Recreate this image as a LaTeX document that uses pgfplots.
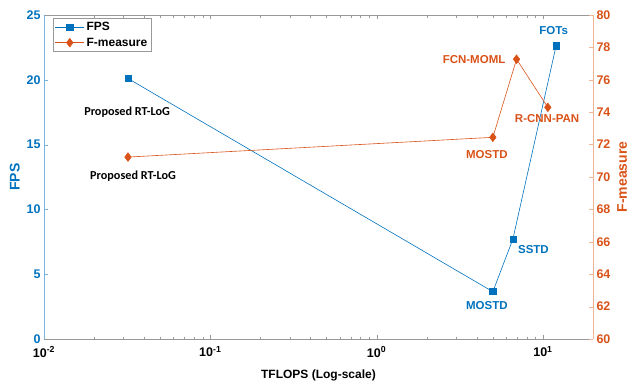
\documentclass[border=0pt]{standalone}
\usepackage{pgfplots}
\pgfplotsset{compat=1.18}
\usepackage{fontspec}
\setmainfont{Liberation Sans}
\newfontfamily\calib{Carlito}
\definecolor{mblue}{RGB}{0,114,189}
\definecolor{morange}{RGB}{217,83,25}
\definecolor{lblue}{RGB}{120,180,225}
\definecolor{lorange}{RGB}{240,180,150}
\begin{document}
\begin{tikzpicture}
\useasboundingbox (-44pt,-44pt) rectangle (587pt,339pt);
\begin{axis}[
  name=ax1,
  scale only axis, width=549pt, height=324pt,
  xmode=log, xmin=0.01, xmax=20,
  ymin=0, ymax=25, ytick={0,5,...,25},
  xtick={0.01,0.1,1,10},
  xticklabels={10\textsuperscript{-2},10\textsuperscript{-1},10\textsuperscript{0},10\textsuperscript{1}},
  axis x line*=box, axis y line*=left,
  tick align=inside,
  x axis line style={gray!80},
  y axis line style={lblue},
  xtick style={gray!80},
  ytick style={lblue},
  major tick length=4pt, minor tick length=2.5pt,
  /pgf/number format/assume math mode=true,
  tick label style={font=\bfseries\fontsize{12.5}{14}\selectfont},
  xticklabel style={yshift=-4pt},
  yticklabel style={mblue},
  xlabel={TFLOPS (Log-scale)}, ylabel={FPS},
  xlabel style={font=\bfseries\fontsize{12}{14}\selectfont, yshift=-6pt},
  ylabel style={font=\bfseries\fontsize{14}{16}\selectfont, mblue},
  clip=false,
]
\addplot[mblue, mark=square*, mark size=3.1pt, line width=0.6pt] coordinates {
  (0.032,20.1) (5.0,3.65) (6.6,7.72) (12.0,22.63)
};
\node[font=\calib\bfseries\fontsize{12.2}{14}\selectfont] at (axis cs:0.0316,17.5) {Proposed RT-LoG};
\node[font=\calib\bfseries\fontsize{12.2}{14}\selectfont] at (axis cs:0.0343,12.58) {Proposed RT-LoG};
\node[font=\bfseries\fontsize{11.5}{13}\selectfont, mblue] at (axis cs:4.6,2.62) {MOSTD};
\node[font=\bfseries\fontsize{11.5}{13}\selectfont, mblue, anchor=west, inner sep=0pt] at (axis cs:7.07,6.94) {SSTD};
\node[font=\bfseries\fontsize{11.5}{13}\selectfont, mblue] at (axis cs:11.6,23.77) {FOTs};
\node[font=\bfseries\fontsize{11.5}{13}\selectfont, morange, anchor=east, inner sep=0pt] at (axis cs:5.96,21.6) {FCN-MOML};
\node[font=\bfseries\fontsize{11.5}{13}\selectfont, morange] at (axis cs:10.6,16.98) {R-CNN-PAN};
\node[font=\bfseries\fontsize{11.5}{13}\selectfont, morange] at (axis cs:4.6,14.27) {MOSTD};
\end{axis}
\begin{axis}[
  scale only axis, width=549pt, height=324pt,
  xmode=log, xmin=0.01, xmax=20,
  ymin=60, ymax=80, ytick={60,62,...,80},
  axis x line=none, axis y line*=right,
  tick align=inside,
  y axis line style={lorange},
  ytick style={lorange},
  major tick length=4pt,
  /pgf/number format/assume math mode=true,
  tick label style={font=\bfseries\fontsize{12.5}{14}\selectfont},
  yticklabel style={morange},
  ylabel={F-measure},
  ylabel style={font=\bfseries\fontsize{14}{16}\selectfont, morange},
  legend style={at={(rel axis cs:0.016,0.99)}, anchor=north west, draw=gray!80, font=\bfseries\fontsize{12}{14}\selectfont, inner xsep=2pt, inner ysep=2pt, row sep=1.5pt},
  legend cell align=left,
  legend image code/.code={\draw[mark repeat=2,mark phase=2] plot coordinates {(0pt,0pt)(14.5pt,0pt)(29pt,0pt)};},
  clip=false,
]
\addlegendimage{mblue, mark=square*, mark size=3.1pt, line width=0.6pt}
\addlegendentry{FPS}
\addplot[morange, mark=diamond*, mark size=4.3pt, line width=0.6pt] coordinates {
  (0.032,71.23) (5.0,72.45) (6.94,77.27) (10.7,74.3)
};
\addlegendentry{F-measure}
\end{axis}
\end{tikzpicture}
\end{document}
